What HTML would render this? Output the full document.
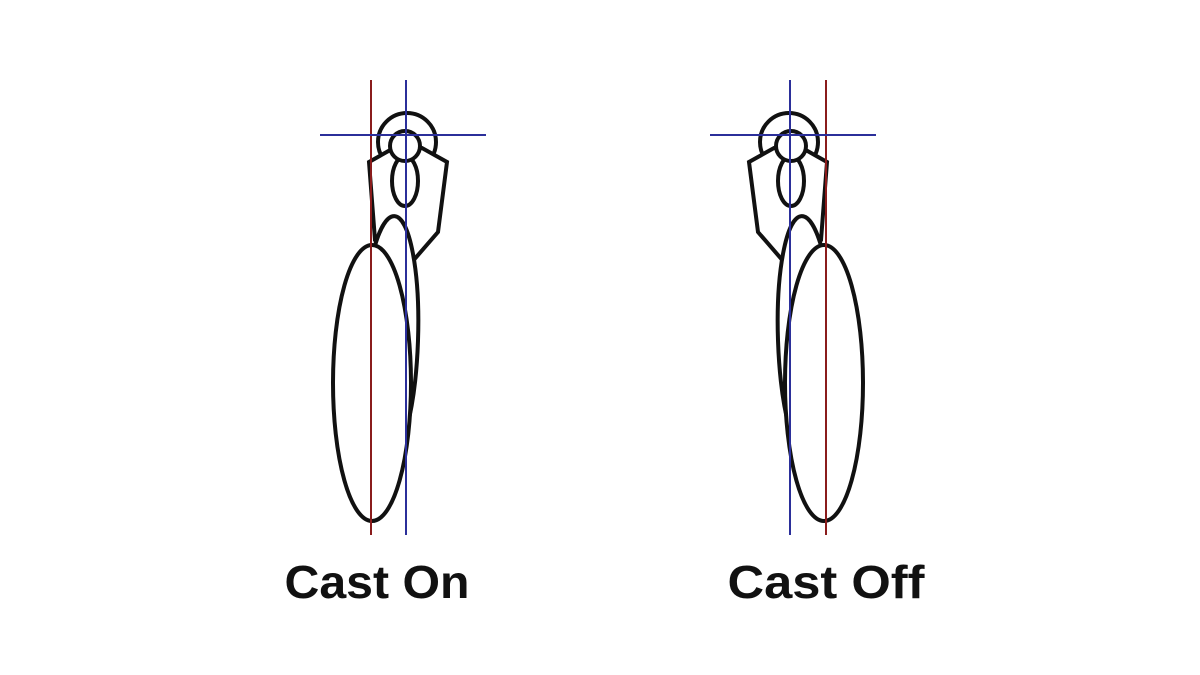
<!DOCTYPE html>
<html><head><meta charset="utf-8"><style>
html,body{margin:0;padding:0;background:#fff;}
svg{display:block}
</style></head><body>
<svg width="1200" height="675" viewBox="0 0 1200 675" xmlns="http://www.w3.org/2000/svg">
<defs>
<g id="fig">
  <circle cx="407" cy="142" r="29" fill="#fff" stroke="#111" stroke-width="4"/>
  <polygon points="369,162 392,149 422,148 447,162 438,232 412,262 375,240" fill="#fff" stroke="#111" stroke-width="4" stroke-linejoin="miter"/>
  <ellipse cx="405" cy="181" rx="13" ry="25" fill="#fff" stroke="#111" stroke-width="4"/>
  <circle cx="405" cy="146" r="15" fill="#fff" stroke="#111" stroke-width="4"/>
  <ellipse cx="390" cy="340" rx="28" ry="124" transform="rotate(2 390 340)" fill="#fff" stroke="#111" stroke-width="4"/>
  <ellipse cx="372" cy="383" rx="39" ry="138" fill="#fff" stroke="#111" stroke-width="4"/>
</g>
</defs>
<use href="#fig"/>
<use href="#fig" transform="translate(1196,0) scale(-1,1)"/>
<g stroke-width="2">
  <line x1="371" y1="80" x2="371" y2="535" stroke="#8a1c1c"/>
  <line x1="406" y1="80" x2="406" y2="535" stroke="#2b2f9a"/>
  <line x1="320" y1="135" x2="486" y2="135" stroke="#2b2f9a"/>
  <line x1="826" y1="80" x2="826" y2="535" stroke="#8a1c1c"/>
  <line x1="790" y1="80" x2="790" y2="535" stroke="#2b2f9a"/>
  <line x1="710" y1="135" x2="876" y2="135" stroke="#2b2f9a"/>
</g>
<g font-family="Liberation Sans, sans-serif" font-weight="bold" font-size="46" fill="#111" text-anchor="middle">
  <text x="377" y="598" textLength="185" lengthAdjust="spacingAndGlyphs">Cast On</text>
  <text x="826" y="598" textLength="197" lengthAdjust="spacingAndGlyphs">Cast Off</text>
</g>
</svg>
</body></html>
